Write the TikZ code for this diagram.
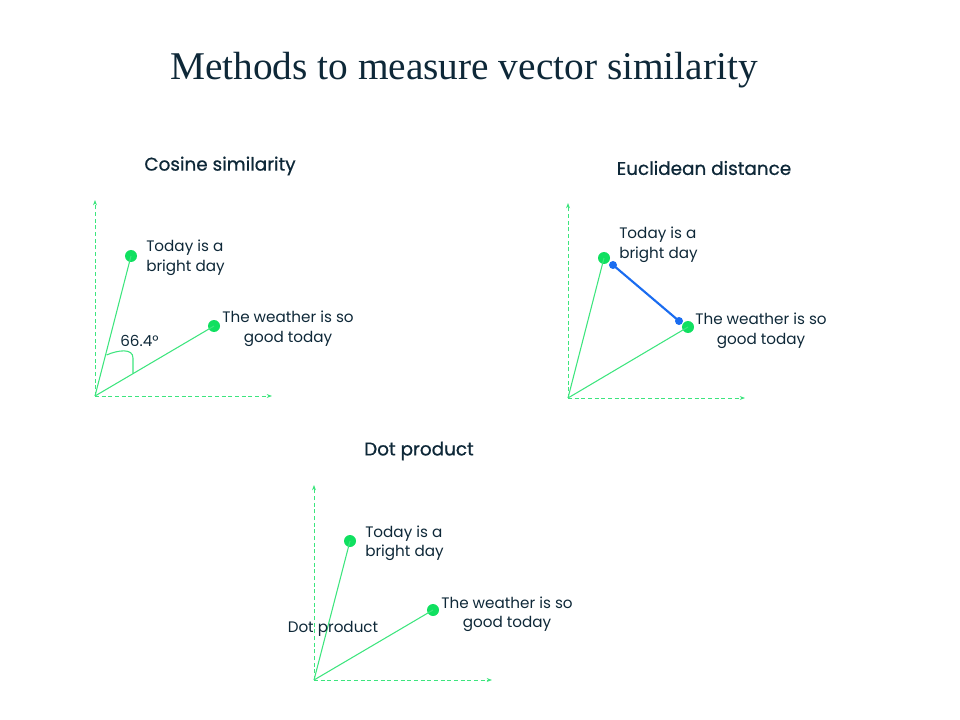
\documentclass[tikz,border=0pt]{standalone}
\usepackage{fontspec}
\setmainfont{Liberation Serif}
\newfontfamily\labfont{Poppins}
\newfontfamily\headfont{Poppins}[FakeBold=0.7]
\usetikzlibrary{arrows.meta}
\definecolor{ink}{HTML}{0E2838}
\definecolor{gline}{HTML}{3DE57E}
\definecolor{gdot}{HTML}{10E060}
\definecolor{bl}{HTML}{1A6CF0}
\tikzset{
  axis/.style={gline, densely dashed, line width=0.7pt, -{Stealth[length=4pt,width=3pt]}},
  vec/.style={gline, line width=0.8pt},
  pt/.style={circle, fill=gdot, inner sep=0pt, minimum size=9pt},
  bpt/.style={circle, fill=bl, inner sep=0pt, minimum size=6pt},
  lab/.style={font=\labfont\fontsize{11.4}{14.6}\selectfont, text=ink, inner sep=0pt},
  head/.style={font=\headfont\fontsize{13.8}{16}\selectfont, text=ink, inner sep=0pt},
}
\begin{document}
\begin{tikzpicture}[x=0.75pt,y=-0.75pt]
\useasboundingbox (0,0) rectangle (960,720);
\node[font=\fontsize{29.5}{34}\selectfont, text=ink] (title) at (464,70) {Methods to measure vector similarity};
% Cosine
\node[head] (h1) at (220,166) {Cosine similarity};
\coordinate (o1) at (95,396);
\coordinate (y1) at (95,200);
\coordinate (x1) at (272,396);
\draw[axis] (o1) -- (y1);
\draw[axis] (o1) -- (x1);
\node[pt] (t1) at (131,256) {};
\node[pt] (w1) at (214,326) {};
\draw[vec] (o1) -- (t1.center);
\draw[vec] (o1) -- (w1.center);
\coordinate (a1) at (106.5,355);
\coordinate (b1) at (133,373);
\draw[gline, line width=0.8pt] (a1) .. controls (118,350) and (133,348) .. (133,358) -- (b1);
\node[lab, anchor=west] (a1l) at (120,341) {66.4°};
\node[lab, anchor=west, align=left] (t1l) at (146,258) {Today is a\\bright day};
\node[lab, align=center] (w1l) at (288,329) {The weather is so\\good today};
% Euclidean
\node[head] (h2) at (704,168) {Euclidean distance};
\coordinate (o2) at (568,398);
\coordinate (y2) at (568,203);
\coordinate (x2) at (745,398);
\draw[axis] (o2) -- (y2);
\draw[axis] (o2) -- (x2);
\node[pt] (t2) at (604,258) {};
\node[pt] (w2) at (688,327) {};
\draw[vec] (o2) -- (t2.center);
\draw[vec] (o2) -- (w2.center);
\node[bpt] (e1) at (613,265) {};
\node[bpt] (e2) at (679,321) {};
\draw[bl, line width=1.6pt] (e1.center) -- (e2.center);
\node[lab, anchor=west, align=left] (t2l) at (619,245) {Today is a\\bright day};
\node[lab, align=center] (w2l) at (761,331) {The weather is so\\good today};
% Dot product
\node[head] (h3) at (419,451) {Dot product};
\coordinate (o3) at (314,680);
\coordinate (y3) at (314,485);
\coordinate (x3) at (492,680);
\draw[axis] (o3) -- (y3);
\draw[axis] (o3) -- (x3);
\node[pt] (t3) at (350,541) {};
\node[pt] (w3) at (433,610) {};
\draw[vec] (o3) -- (t3.center);
\draw[vec] (o3) -- (w3.center);
\node[lab, anchor=west, align=left] (t3l) at (365,543) {Today is a\\bright day};
\node[lab, align=center] (w3l) at (507,614) {The weather is so\\good today};
\node[lab] (dpl) at (333,629) {Dot product};
\end{tikzpicture}
\end{document}
